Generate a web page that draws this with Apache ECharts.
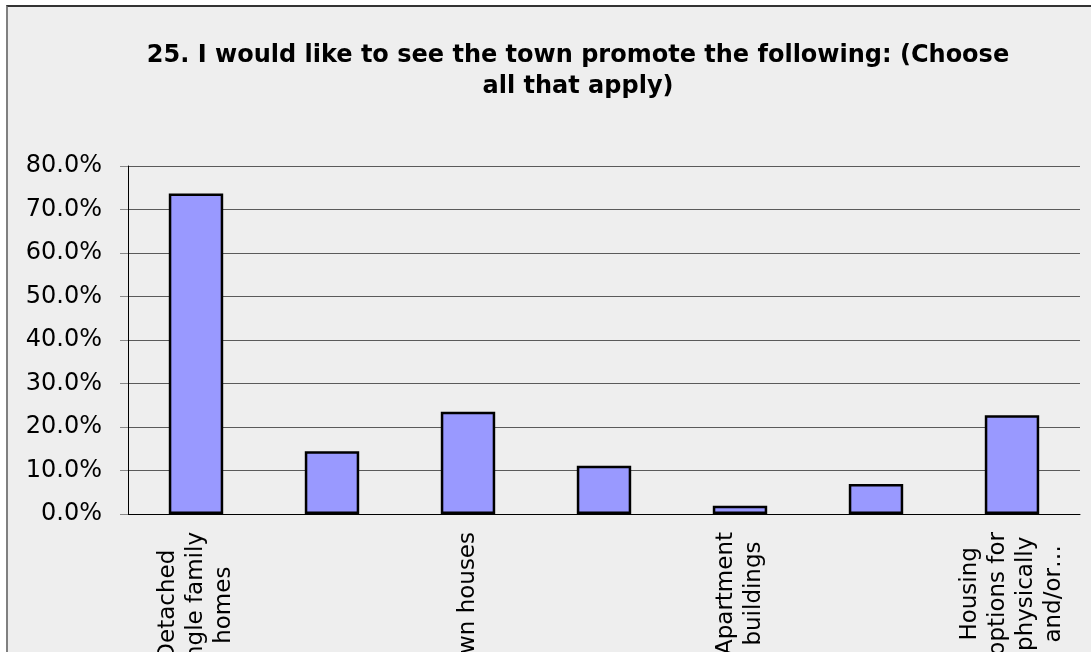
<!DOCTYPE html>
<html>
<head>
<meta charset="utf-8">
<script src="https://cdn.jsdelivr.net/npm/echarts@6/dist/echarts.min.js"></script>
<style>
html, body { margin: 0; padding: 0; background: #fff; }
#frame {
  position: absolute; left: 6px; top: 5px; width: 1200px; height: 700px;
  background: #eeeeee; border-top: 2px solid #333; border-left: 2px solid #808080;
}
#main { position: absolute; left: 0; top: 0; width: 1091px; height: 652px; }
</style>
</head>
<body>
<div id="frame"></div>
<div id="main"></div>
<script>
// categories (only every other label is shown on the axis, like the original)
const categories = [
  'Detached\nsingle family\nhomes',
  'Two-family\nhomes',
  'Town houses',
  'Condominiums',
  'Apartment\nbuildings',
  'Mobile homes',
  'Housing\noptions for\nphysically\nand/or…'
]
// percent of respondents
const values = [73.7, 14.4, 23.5, 11.1, 1.9, 6.9, 22.7]
const yTicks = { min: 0, max: 80, interval: 10 }
const titleText = '25. I would like to see the town promote the following: (Choose\nall that apply)'

const font = 'DejaVu Sans'
const myChart = echarts.init(document.getElementById('main'))
const option = {
  animation: false,
  title: {
    text: titleText,
    left: 573,
    top: 35,
    textAlign: 'center',
    textStyle: {
      fontFamily: font,
      fontWeight: 'bold',
      fontSize: 24,
      lineHeight: 31,
      color: '#000'
    }
  },
  grid: {
    left: 128,
    right: 11,
    top: 166,
    bottom: 138,
    outerBoundsMode: 'none'
  },
  xAxis: {
    type: 'category',
    data: categories,
    axisLine: { lineStyle: { color: '#000', width: 1 } },
    axisTick: { interval: 0, length: 8, lineStyle: { color: '#888' } },
    axisLabel: {
      interval: 1,
      rotate: 90,
      margin: 18,
      color: '#000',
      formatter: (v) => v.split('\n').map(l => '{c|' + l + '}').join('\n'),
      rich: {
        c: { align: 'center', fontFamily: font, fontSize: 23, lineHeight: 28, color: '#000' }
      }
    }
  },
  yAxis: {
    type: 'value',
    min: yTicks.min,
    max: yTicks.max,
    interval: yTicks.interval,
    axisLine: { show: true, lineStyle: { color: '#000', width: 1 } },
    axisTick: { show: true, length: 8, lineStyle: { color: '#888' } },
    axisLabel: {
      margin: 26,
      fontFamily: font,
      fontSize: 24,
      color: '#000',
      formatter: (v) => v.toFixed(1) + '%'
    },
    splitLine: { lineStyle: { color: '#5a5a5a', width: 1 } }
  },
  series: [
    {
      type: 'bar',
      data: values,
      barWidth: '40%',
      itemStyle: {
        color: '#9999ff',
        borderColor: '#000',
        borderWidth: 2.5
      }
    }
  ]
}
myChart.setOption(option)
</script>
</body>
</html>
